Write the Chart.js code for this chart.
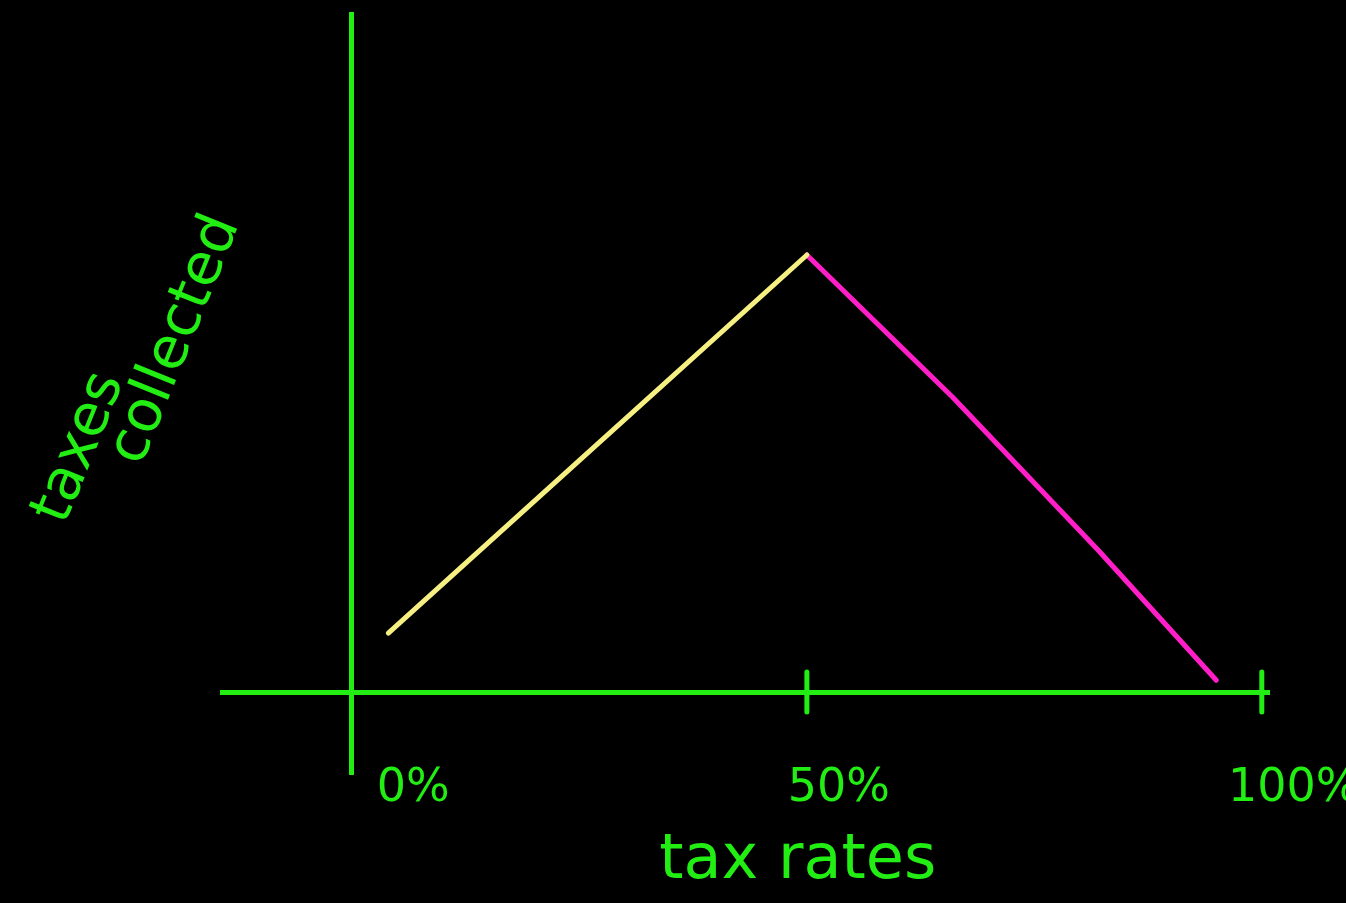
<!DOCTYPE html>
<html>
<head>
<meta charset="utf-8">
<script src="https://cdn.jsdelivr.net/npm/chart.js@4"></script>
<style>
  html, body { margin: 0; padding: 0; background: #000; }
  #wrap { width: 1346px; height: 903px; }
</style>
</head>
<body>
<div id="wrap"><canvas id="lafferChart"></canvas></div>
<script>
const risingRates = [4, 25, 50];
const risingTaxes = [13.5, 53, 100];
const fallingRates = [50, 66, 82, 95];
const fallingTaxes = [100, 67.5, 32.5, 2.7];
const rateTicks = [0, 50, 100];
const markTicks = [50, 100];

const GREEN = "#22ee14";

/* titles and the little crosses on the x axis */
const sketchBits = {
  id: "sketchBits",
  afterDraw(chart) {
    const { ctx, scales: { x, y } } = chart;
    ctx.save();
    ctx.strokeStyle = GREEN;
    ctx.lineWidth = 5;
    ctx.lineCap = "round";
    markTicks.forEach(v => {
      const px = x.getPixelForValue(v);
      const py = y.getPixelForValue(0);
      ctx.beginPath();
      ctx.moveTo(px, py - 20);
      ctx.lineTo(px, py + 20);
      ctx.stroke();
    });

    ctx.fillStyle = GREEN;
    ctx.textAlign = "center";
    ctx.textBaseline = "middle";
    ctx.font = "62px 'DejaVu Sans'";
    ctx.fillText("tax rates", x.getPixelForValue(49), 862);

    ctx.font = "58px 'DejaVu Sans'";
    [["taxes", 80, 448], ["collected", 176, 340]].forEach(([t, cx, cy]) => {
      ctx.save();
      ctx.translate(cx, cy);
      ctx.rotate(-68 * Math.PI / 180);
      ctx.fillText(t, 0, 0);
      ctx.restore();
    });
    ctx.restore();
  }
};

new Chart(document.getElementById("lafferChart"), {
  type: "line",
  data: {
    datasets: [{
      label: "rising",
      data: risingRates.map((r, i) => ({ x: r, y: risingTaxes[i] })),
      borderColor: "#f6ef82",
      borderWidth: 5
    }, {
      label: "falling",
      data: fallingRates.map((r, i) => ({ x: r, y: fallingTaxes[i] })),
      borderColor: "#ff1ec8",
      borderWidth: 5
    }]
  },
  options: {
    responsive: true,
    maintainAspectRatio: false,
    animation: false,
    layout: { padding: { left: 220, right: 76, top: 12, bottom: 0 } },
    elements: {
      point: { radius: 0 },
      line: { tension: 0, borderCapStyle: "round", borderJoinStyle: "round" }
    },
    plugins: { legend: { display: false }, tooltip: { enabled: false } },
    scales: {
      x: {
        type: "linear",
        min: -14.5,
        max: 100.9,
        afterBuildTicks: s => { s.ticks = rateTicks.map(v => ({ value: v })); },
        afterFit: s => { s.height = 148; },
        border: { display: false },
        grid: {
          drawTicks: true,
          tickLength: 20,
          lineWidth: 5,
          color: c => c.tick && c.tick.value === 0 ? GREEN : "rgba(0,0,0,0)"
        },
        ticks: {
          color: GREEN,
          font: { family: "DejaVu Sans", size: 46 },
          padding: -14,
          labelOffset: 32,
          // keep the 0% label clear of the vertical axis
          callback: v => (v === 0 ? "    " : "") + v + "%"
        }
      },
      y: {
        type: "linear",
        min: -14.4,
        max: 155.6,
        afterBuildTicks: s => { s.ticks = [{ value: 0 }]; },
        afterFit: s => { s.width = 0; },
        border: { display: false },
        grid: { drawTicks: false, lineWidth: 5, color: GREEN },
        ticks: { display: false }
      }
    }
  },
  plugins: [sketchBits]
});
</script>
</body>
</html>
